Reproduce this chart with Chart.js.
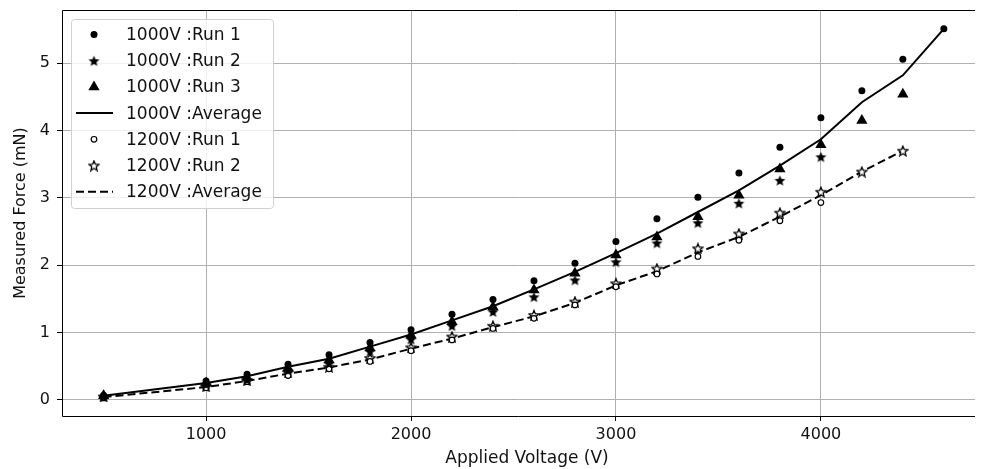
<!DOCTYPE html>
<html>
<head>
<meta charset="utf-8">
<script src="https://cdn.jsdelivr.net/npm/chart.js@4"></script>
<style>
  html, body { margin: 0; padding: 0; background: #fff; overflow: hidden; }
</style>
</head>
<body>
<canvas id="forceChart" width="982" height="469"></canvas>
<script>
// applied voltage (V) for each measurement step
const voltages = [500, 1000, 1200, 1400, 1600, 1800, 2000, 2200, 2400, 2600, 2800, 3000, 3200, 3400, 3600, 3800, 4000, 4200, 4400, 4600];

// measured force (mN), 1000V series
const run1_1000 = [0.07, 0.28, 0.38, 0.53, 0.67, 0.85, 1.04, 1.27, 1.49, 1.77, 2.03, 2.35, 2.69, 3.01, 3.37, 3.75, 4.19, 4.59, 5.06, 5.51];
const run2_1000 = [0.05, 0.23, 0.30, 0.44, 0.54, 0.72, 0.90, 1.10, 1.31, 1.53, 1.78, 2.05, 2.33, 2.63, 2.92, 3.26, 3.61];
const run3_1000 = [0.06, 0.25, 0.33, 0.47, 0.59, 0.77, 0.96, 1.16, 1.38, 1.63, 1.88, 2.15, 2.42, 2.72, 3.04, 3.43, 3.79, 4.15, 4.54];
const avg_1000 = [0.06, 0.25, 0.35, 0.49, 0.61, 0.79, 0.97, 1.18, 1.39, 1.64, 1.90, 2.18, 2.47, 2.79, 3.11, 3.48, 3.87, 4.42, 4.82, 5.51];

// measured force (mN), 1200V series
const run1_1200 = [0.03, 0.18, 0.27, 0.36, 0.46, 0.57, 0.73, 0.89, 1.06, 1.21, 1.41, 1.68, 1.87, 2.13, 2.37, 2.66, 2.93];
const run2_1200 = [0.05, 0.20, 0.29, 0.41, 0.49, 0.62, 0.78, 0.94, 1.10, 1.26, 1.46, 1.73, 1.95, 2.25, 2.47, 2.78, 3.09, 3.39, 3.70];
const avg_1200 = [0.04, 0.19, 0.28, 0.39, 0.48, 0.60, 0.76, 0.91, 1.08, 1.24, 1.44, 1.70, 1.91, 2.19, 2.42, 2.72, 3.04, 3.39, 3.70];

const xTicks = [1000, 2000, 3000, 4000];
const yTicks = [0, 1, 2, 3, 4, 5];

const FONT = "'DejaVu Sans', sans-serif";

let toPoints = function (values) {
    return values.map((v, i) => ({ x: voltages[i], y: v }));
}

// five point star marker, filled or open
let makeStar = function (size, filled) {
    const c = document.createElement("canvas");
    c.width = size; c.height = size;
    const ctx = c.getContext("2d");
    const cx = size / 2, cy = size / 2 + 0.6;
    const outer = size / 2 - 0.8, inner = outer * 0.45;
    ctx.beginPath();
    for (let k = 0; k < 10; k++) {
        const r = k % 2 === 0 ? outer : inner;
        const a = -Math.PI / 2 + k * Math.PI / 5;
        ctx.lineTo(cx + r * Math.cos(a), cy + r * Math.sin(a));
    }
    ctx.closePath();
    ctx.lineJoin = "miter";
    if (filled) {
        ctx.fillStyle = "#000";
        ctx.fill();
    } else {
        ctx.fillStyle = "#fff";
        ctx.fill();
        ctx.strokeStyle = "#000";
        ctx.lineWidth = 1.3;
        ctx.stroke();
    }
    return c;
}

const filledStar = makeStar(13, true);
const openStar = makeStar(12, false);

const datasets = [
    { label: "1000V :Run 1", data: toPoints(run1_1000), showLine: false, pointStyle: "circle", pointRadius: 3.5, backgroundColor: "#000", borderColor: "#000", borderWidth: 0 },
    { label: "1000V :Run 2", data: toPoints(run2_1000), showLine: false, pointStyle: filledStar, pointRadius: 6, backgroundColor: "#000", borderColor: "#000" },
    { label: "1000V :Run 3", data: toPoints(run3_1000), showLine: false, pointStyle: "triangle", pointRadius: 6.5, backgroundColor: "#000", borderColor: "#000", borderWidth: 0 },
    { label: "1000V :Average", data: toPoints(avg_1000), showLine: true, pointRadius: 0, borderColor: "#000", borderWidth: 2, tension: 0 },
    { label: "1200V :Run 1", data: toPoints(run1_1200), showLine: false, pointStyle: "circle", pointRadius: 2.8, backgroundColor: "#fff", borderColor: "#000", borderWidth: 1.2 },
    { label: "1200V :Run 2", data: toPoints(run2_1200), showLine: false, pointStyle: openStar, pointRadius: 6, backgroundColor: "#fff", borderColor: "#000" },
    { label: "1200V :Average", data: toPoints(avg_1200), showLine: true, pointRadius: 0, borderColor: "#000", borderWidth: 2, borderDash: [8, 4], tension: 0 }
];

// top/left/bottom spines (the original is cut off before its right spine),
// plus the x title, which sits centred on the full (uncut) axis
const framePlugin = {
    id: "frame",
    afterDatasetsDraw(chart) {
        const { ctx, chartArea: a } = chart;
        ctx.save();
        ctx.strokeStyle = "#000";
        ctx.lineWidth = 1;
        ctx.beginPath();
        ctx.moveTo(a.right, Math.round(a.top) + 0.5);
        ctx.lineTo(Math.round(a.left) + 0.5, Math.round(a.top) + 0.5);
        ctx.lineTo(Math.round(a.left) + 0.5, Math.round(a.bottom) + 0.5);
        ctx.lineTo(a.right, Math.round(a.bottom) + 0.5);
        ctx.stroke();

        ctx.font = "17px " + FONT;
        ctx.fillStyle = "#111";
        ctx.textAlign = "center";
        ctx.textBaseline = "middle";
        ctx.fillText("Applied Voltage (V)", 527, 459);
        ctx.restore();
    }
};

// legend box in the upper left corner of the plot
const legendPlugin = {
    id: "boxLegend",
    afterDraw(chart) {
        const ctx = chart.ctx;
        const boxX = 71, boxY = 19, boxW = 202, boxH = 189;
        ctx.save();
        ctx.globalAlpha = 0.8;
        ctx.fillStyle = "#fff";
        ctx.beginPath();
        ctx.roundRect(boxX + 0.5, boxY + 0.5, boxW, boxH, 3);
        ctx.fill();
        ctx.globalAlpha = 1;
        ctx.strokeStyle = "#d0d0d0";
        ctx.lineWidth = 1;
        ctx.stroke();

        ctx.font = "17px " + FONT;
        ctx.textBaseline = "middle";
        ctx.textAlign = "left";
        chart.data.datasets.forEach((ds, i) => {
            const y = 34.5 + i * 26.2;
            const mx = 94;
            if (ds.showLine) {
                ctx.strokeStyle = ds.borderColor;
                ctx.lineWidth = ds.borderWidth;
                ctx.setLineDash(ds.borderDash || []);
                ctx.beginPath();
                ctx.moveTo(76, y);
                ctx.lineTo(113, y);
                ctx.stroke();
                ctx.setLineDash([]);
            } else {
                ctx.fillStyle = ds.backgroundColor;
                ctx.strokeStyle = ds.borderColor;
                ctx.lineWidth = ds.borderWidth || 0;
                Chart.helpers.drawPoint(ctx, {
                    pointStyle: ds.pointStyle,
                    radius: ds.pointRadius,
                    rotation: 0,
                    borderWidth: ds.borderWidth || 0
                }, mx, y);
            }
            ctx.fillStyle = "#111";
            ctx.fillText(ds.label, 126, y + 1);
        });
        ctx.restore();
    }
};

new Chart(document.getElementById("forceChart"), {
    type: "scatter",
    data: { datasets: datasets },
    options: {
        responsive: false,
        animation: false,
        devicePixelRatio: 1,
        layout: { padding: { top: 10, right: 0, left: 0, bottom: 0 } },
        plugins: {
            legend: { display: false },
            tooltip: { enabled: false }
        },
        scales: {
            x: {
                type: "linear",
                min: 297,
                max: 4752,
                afterBuildTicks: (scale) => { scale.ticks = xTicks.map(v => ({ value: v })); },
                afterFit: (scale) => {
                    scale.height = 53;
                    scale.paddingLeft = 0;
                    scale.paddingRight = 0;
                },
                border: { display: false },
                grid: { color: "#b0b0b0", lineWidth: 1, tickLength: 5, tickColor: "#000" },
                ticks: { color: "#111", font: { family: FONT, size: 16 }, padding: 4, maxRotation: 0, callback: (v) => String(v) },
                title: { display: false }
            },
            y: {
                type: "linear",
                min: -0.24,
                max: 5.79,
                afterBuildTicks: (scale) => { scale.ticks = yTicks.map(v => ({ value: v })); },
                afterFit: (scale) => {
                    scale.width = 62;
                    scale.paddingTop = 0;
                    scale.paddingBottom = 0;
                },
                border: { display: false },
                grid: { color: "#b0b0b0", lineWidth: 1, tickLength: 5, tickColor: "#000" },
                ticks: { color: "#111", font: { family: FONT, size: 16 }, padding: 7, callback: (v) => String(v) },
                title: { display: true, text: "Measured Force (mN)", color: "#111", font: { family: FONT, size: 16 }, padding: { top: 11, bottom: 0 } }
            }
        }
    },
    plugins: [framePlugin, legendPlugin]
});
</script>
</body>
</html>
